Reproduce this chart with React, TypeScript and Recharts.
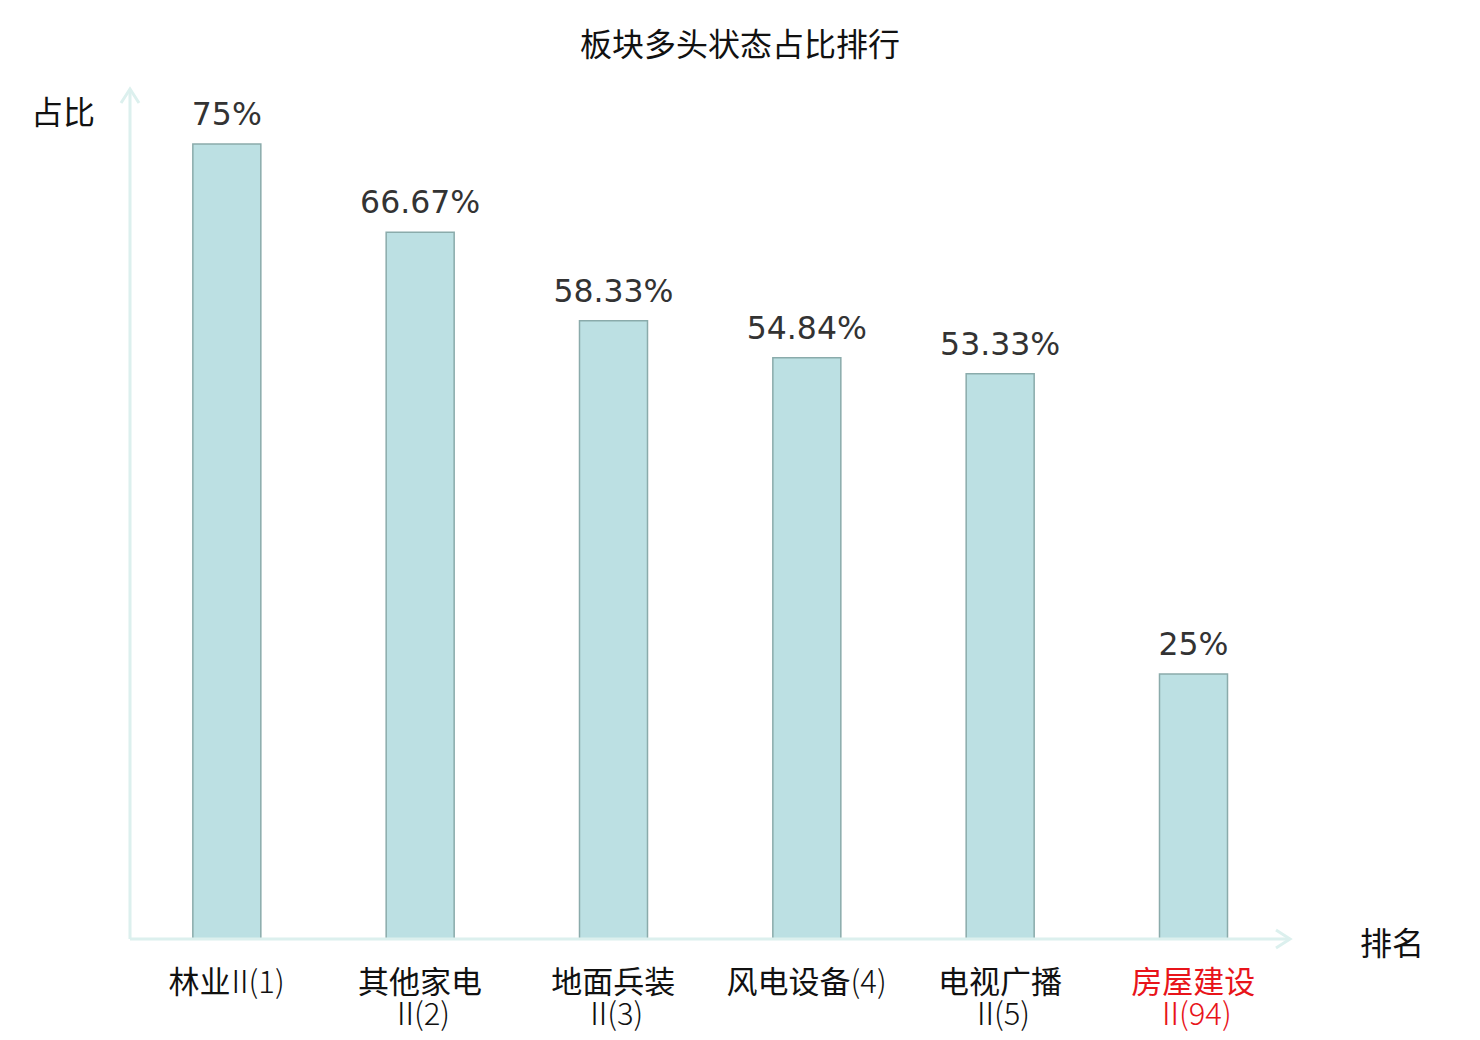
import { BarChart, Bar, XAxis, YAxis, LabelList, Cell } from 'recharts';

const CATEGORIES = ['林业Ⅱ(1)', '其他家电Ⅱ(2)', '地面兵装Ⅱ(3)', '风电设备(4)', '电视广播Ⅱ(5)', '房屋建设Ⅱ(94)'];
// rows drawn under each bar: [cjk part, roman numeral, rank]
const TICK_ROWS = [
  [['林业', 'Ⅱ', '(1)']],
  [['其他家电', '', ''], ['', 'Ⅱ', '(2)']],
  [['地面兵装', '', ''], ['', 'Ⅱ', '(3)']],
  [['风电设备', '', '(4)']],
  [['电视广播', '', ''], ['', 'Ⅱ', '(5)']],
  [['房屋建设', '', ''], ['', 'Ⅱ', '(94)']],
];
const SHARE = [75, 66.67, 58.33, 54.84, 53.33, 25];
const HIGHLIGHT = [false, false, false, false, false, true];

const W = 1480;
const H = 1040;
const M = { top: 91, right: 190, bottom: 101, left: 130 };
const X_AXIS_H = 30;
const AXIS = '#dcf0ee';
const FONT = '"DejaVu Sans", "Noto Sans CJK SC", sans-serif';
const CJK = '"Noto Sans CJK SC", "DejaVu Sans", sans-serif';

const data = CATEGORIES.map((name, i) => ({ name, value: SHARE[i], idx: i }));

function Tick(props: any) {
  const { x, y, payload } = props;
  const i = payload.index;
  const rows = TICK_ROWS[i];
  const colour = HIGHLIGHT[i] ? '#e8141a' : '#111';
  return (
    <g transform={`translate(${x},${y})`}>
      {rows.map((r, k) => (
        <text key={k} x={0} y={32 + k * 32} textAnchor="middle" dominantBaseline="central"
          fontSize={31} fontFamily={CJK} fill={colour}>
          {r[0] && <tspan>{r[0]}</tspan>}
          {r[1] && <tspan fontWeight={200} letterSpacing={-2} dx={r[0] ? -6 : 0}>{r[1]}</tspan>}
          {r[2] && <tspan fontWeight={200} dx={r[1] ? -5 : 0}>{r[2]}</tspan>}
        </text>
      ))}
    </g>
  );
}

export default function App() {
  const x0 = M.left;
  const y0 = H - M.bottom;
  const x1 = W - M.right;
  const y1 = M.top;
  return (
    <div style={{ position: 'absolute', left: 0, top: 0, width: W, height: H, background: '#fff' }}>
      <BarChart width={W} height={H} data={data}
        margin={{ ...M, bottom: M.bottom - X_AXIS_H }} barCategoryGap="32.5%">
        <XAxis dataKey="name" height={X_AXIS_H} axisLine={false} tickLine={false} tick={<Tick />} interval={0} />
        <YAxis hide domain={[0, 80]} />
        <Bar dataKey="value" fill="#bce0e3" stroke="#8aabab" strokeWidth={1.5} isAnimationActive={false}>
          {data.map((d) => <Cell key={d.idx} />)}
          <LabelList dataKey="value" position="top" offset={19} fontSize={31.5} fontFamily={FONT} fill="#333"
            formatter={(v: any) => `${v}%`} />
        </Bar>
      </BarChart>
      <svg width={W} height={H} style={{ position: 'absolute', left: 0, top: 0, pointerEvents: 'none' }}>
        <line x1={x0} y1={y0} x2={x0} y2={y1 - 2} stroke={AXIS} strokeWidth={3} />
        <polyline points={`${x0 - 9},${y1 + 12} ${x0},${y1 - 2} ${x0 + 9},${y1 + 12}`} fill="none" stroke={AXIS} strokeWidth={3} />
        <line x1={x0} y1={y0} x2={x1} y2={y0} stroke={AXIS} strokeWidth={3} />
        <polyline points={`${x1 - 14},${y0 - 9} ${x1},${y0} ${x1 - 14},${y0 + 9}`} fill="none" stroke={AXIS} strokeWidth={3} />
        <text x={740} y={42} textAnchor="middle" dominantBaseline="central" fontSize={32} fontFamily={CJK} fill="#111">板块多头状态占比排行</text>
        <text x={63} y={110} textAnchor="middle" dominantBaseline="central" fontSize={32} fontFamily={CJK} fill="#111">占比</text>
        <text x={1392} y={941} textAnchor="middle" dominantBaseline="central" fontSize={32} fontFamily={CJK} fill="#111">排名</text>
      </svg>
    </div>
  );
}
